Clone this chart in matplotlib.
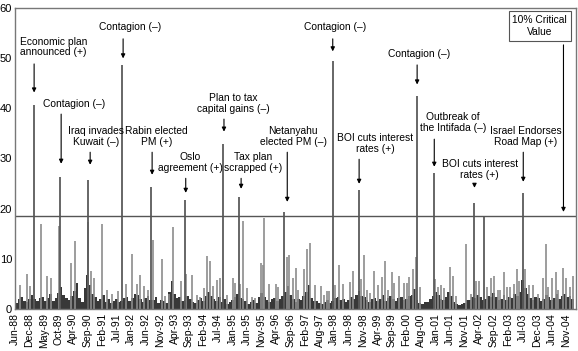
import matplotlib.pyplot as plt
import numpy as np

plt.rcParams['font.family'] = ['Liberation Sans', 'DejaVu Sans']

# weekly index, one tick label every 22 weeks
tick_labels = ["Jun-88", "Dec-88", "May-89", "Oct-89", "Apr-90", "Sep-90", "Feb-91", "Jul-91",
               "Jan-92", "Jun-92", "Nov-92", "Apr-93", "Sep-93", "Feb-94", "Jul-94", "Jan-95",
               "Jun-95", "Nov-95", "Apr-96", "Sep-96", "Feb-97", "Aug-97", "Jan-98", "Jun-98",
               "Nov-98", "Apr-99", "Sep-99", "Feb-00", "Aug-00", "Jan-01", "Jun-01", "Nov-01",
               "Apr-02", "Sep-02", "Feb-03", "Jul-03", "Dec-03", "Jun-04", "Nov-04"]

# dark background band, one value per 4 weeks
band = [1.2, 1.9, 2.3, 1.6, 1.3, 1.9, 2.8, 1.9, 1.5, 2.2, 2.4, 1.6, 2.1, 3.0, 1.5, 2.2,
        3.2, 4.4, 2.8, 2.1, 1.8, 2.6, 3.6, 5.2, 2.2, 1.4, 4.2, 6.8, 4.8, 3.0, 2.4, 1.6,
        2.0, 2.8, 1.3, 1.9, 1.2, 1.6, 1.9, 1.3, 1.5, 2.1, 2.3, 1.6, 2.2, 3.0, 2.8, 2.0,
        1.4, 2.2, 2.6, 1.8, 1.7, 2.3, 1.2, 1.8, 1.6, 1.2, 3.4, 5.6, 2.9, 2.1, 2.4, 1.6,
        1.8, 2.6, 1.9, 1.3, 1.1, 1.7, 2.1, 1.5, 2.6, 3.4, 2.5, 1.9, 1.6, 2.4, 1.3, 1.9,
        1.0, 1.4, 1.7, 2.3, 3.0, 2.2, 2.0, 1.6, 1.0, 1.4, 1.7, 1.1, 2.4, 3.2, 2.3, 1.7,
        1.3, 1.9, 2.1, 1.5, 1.9, 2.5, 3.4, 4.6, 2.8, 2.0, 1.3, 1.9, 1.8, 2.6, 3.3, 4.7,
        2.1, 1.5, 1.6, 1.2, 1.0, 1.4, 1.7, 1.1, 1.5, 2.1, 2.3, 1.7, 1.9, 1.3, 1.7, 2.3,
        2.0, 2.8, 3.5, 2.5, 2.3, 1.7, 1.3, 1.9, 2.1, 1.5, 2.0, 2.8, 1.5, 2.1, 2.5, 1.9,
        1.5, 2.1, 2.3, 1.7, 1.9, 2.5, 2.8, 4.0, 1.7, 1.1, 1.0, 1.4, 1.3, 1.9, 2.6, 3.4,
        2.8, 2.0, 1.7, 2.3, 3.4, 2.6, 1.4, 1.0, 0.8, 1.0, 1.1, 1.7, 1.7, 2.3, 2.1, 2.7,
        2.3, 1.7, 1.9, 2.5, 2.4, 3.2, 2.3, 1.7, 2.0, 2.8, 1.7, 2.3, 2.2, 3.0, 2.6, 3.4,
        5.8, 4.2, 3.0, 2.2, 1.7, 2.3, 2.1, 1.5, 2.0, 2.8, 2.3, 1.7, 2.2, 3.0, 1.9, 2.5,
        2.9, 2.3, 2.5, 1.9]

# smaller spikes (week, value)
spike_week = [7, 18, 23, 39, 49, 55, 66, 85, 91, 110, 116, 120, 132, 139, 147, 157, 169, 178,
              185, 190, 195, 201, 210, 223, 228, 233, 240, 252, 260, 268, 276, 281, 287, 292,
              296, 301, 306, 311, 322, 330, 333, 342, 346, 352, 359, 364, 373, 376, 378, 386,
              396, 399, 413, 416, 421, 426, 430, 439, 443, 448, 455, 464, 469, 473, 477, 486,
              492, 498, 508, 513, 525, 530, 534, 539, 544, 551, 556, 561, 566, 572, 575, 583,
              590, 594, 598, 604, 608, 614, 637, 642, 646, 651, 660, 664, 669, 684, 691, 700,
              704, 716, 722, 727, 732, 736, 742, 747, 751, 757, 761, 765, 774, 779, 786, 794,
              801, 806, 809, 814, 821, 824, 832, 836, 842, 847]
spike_val = [4.8, 7.0, 4.5, 17.0, 6.5, 6.2, 16.6, 9.2, 13.5, 17.3, 7.5, 6.2, 17.0, 3.8, 3.0,
             3.5, 5.0, 11.0, 5.0, 6.8, 4.5, 3.7, 13.8, 10.0, 2.6, 3.0, 16.3, 5.5, 7.0, 6.7,
             2.7, 2.4, 4.2, 10.5, 9.5, 4.5, 5.7, 6.2, 2.7, 6.2, 5.2, 5.0, 17.5, 4.2, 2.3, 2.1,
             9.1, 8.8, 18.1, 5.0, 5.0, 4.3, 10.3, 10.8, 6.2, 8.1, 3.7, 8.0, 11.9, 13.1, 4.8,
             4.5, 2.7, 3.5, 3.5, 4.8, 8.8, 5.0, 5.3, 7.5, 6.0, 10.7, 3.8, 3.2, 7.5, 4.7, 6.3,
             9.5, 3.7, 7.3, 5.2, 6.5, 5.2, 5.2, 6.3, 7.9, 10.3, 4.3, 6.0, 4.3, 4.7, 4.2, 8.3,
             6.5, 2.5, 12.9, 3.0, 5.5, 5.5, 4.3, 6.1, 6.5, 3.7, 3.7, 7.3, 4.3, 4.3, 5.0, 8.0,
             5.5, 8.0, 4.7, 4.7, 3.0, 6.2, 13.0, 4.3, 6.1, 7.3, 3.8, 8.2, 6.1, 4.3, 6.5]

# large spikes (week, value)
big_week = [29, 69, 111, 163, 206, 258, 316, 340, 408, 482, 522, 610, 635, 697, 711, 771]
big_val = [40.6, 26.3, 25.8, 48.6, 24.3, 21.8, 32.8, 22.4, 19.4, 49.4, 23.8, 42.4, 27.2,
           21.2, 18.4, 23.2]

critical = 18.6

# events: text, text position (week, value), arrow x (week), arrow from, arrow to
events = [
    ("Economic plan\nannounced (+)", 58, 52.2, 29, 49.4, 42.6),
    ("Contagion (\u2013)", 90, 40.8, 70, 39.4, 28.4),
    ("Iraq invades\nKuwait (\u2013)", 123, 34.4, 114, 31.8, 28.2),
    ("Contagion (\u2013)", 175, 56.2, 164, 54.4, 49.4),
    ("Rabin elected\nPM (+)", 215, 34.4, 208, 31.8, 26.2),
    ("Oslo\nagreement (+)", 266, 29.2, 259, 26.6, 22.6),
    ("Plan to tax\ncapital gains (\u2013)", 331, 41.0, 317, 38.4, 34.8),
    ("Tax plan\nscrapped (+)", 361, 29.2, 343, 26.6, 23.4),
    ("Netanyahu\nelected PM (\u2013)", 422, 34.4, 413, 31.8, 20.8),
    ("Contagion (\u2013)", 486, 56.2, 482, 54.4, 50.8),
    ("BOI cuts interest\nrates (+)", 546, 33.0, 522, 30.4, 24.4),
    ("Contagion (\u2013)", 613, 50.8, 610, 49.2, 44.2),
    ("Outbreak of\nthe Intifada (\u2013)", 664, 37.2, 636, 34.4, 27.8),
    ("BOI cuts interest\nrates (+)", 705, 27.8, 697, 25.4, 23.6),
    ("Israel Endorses\nRoad Map (+)", 775, 34.4, 771, 31.8, 24.8),
]

fig = plt.figure(figsize=(5.78, 3.51), dpi=100)
ax = fig.add_axes([15 / 578, 1 - 309 / 351, 561 / 578, 301 / 351])

# background band
centers = np.arange(len(band)) * 4 + 2
ax.bar(centers, band, width=4, color="#383838", linewidth=0)

ax.vlines(spike_week, 0, spike_val, color="#8c8c8c", lw=1.2)
ax.vlines(big_week, 0, big_val, color="#5a5a5a", lw=1.3)

ax.axhline(critical, color="#555555", lw=1.0)

for txt, tx, ty, ax_x, y0, y1 in events:
    ax.text(tx, ty, txt, ha="center", va="center", fontsize=7.4, linespacing=1.05)
    ax.annotate("", xy=(ax_x, y1), xytext=(ax_x, y0),
                arrowprops=dict(arrowstyle="-|>", color="black", lw=0.8, mutation_scale=6))

# critical value box
ax.text(796, 56.4, "10% Critical\nValue", ha="center", va="center", fontsize=7.4,
        linespacing=1.3, multialignment="center",
        bbox=dict(boxstyle="square,pad=0.35", fc="white", ec="#555555", lw=0.8))
ax.annotate("", xy=(832, critical + 0.2), xytext=(832, 53.2),
            arrowprops=dict(arrowstyle="-|>", color="black", lw=0.8, mutation_scale=6))

ax.set_xlim(0, 851)
ax.set_ylim(0, 60)
ax.set_yticks(range(0, 61, 10))
ax.set_xticks(np.arange(len(tick_labels)) * 22)
ax.set_xticklabels(tick_labels, rotation=90, fontsize=7.5)
ax.tick_params(axis="y", labelsize=8, length=0, pad=2)
ax.tick_params(axis="x", length=0, pad=3)
for s in ax.spines.values():
    s.set_color("#777777")
    s.set_linewidth(1.0)

plt.savefig("out.png", dpi=100)
